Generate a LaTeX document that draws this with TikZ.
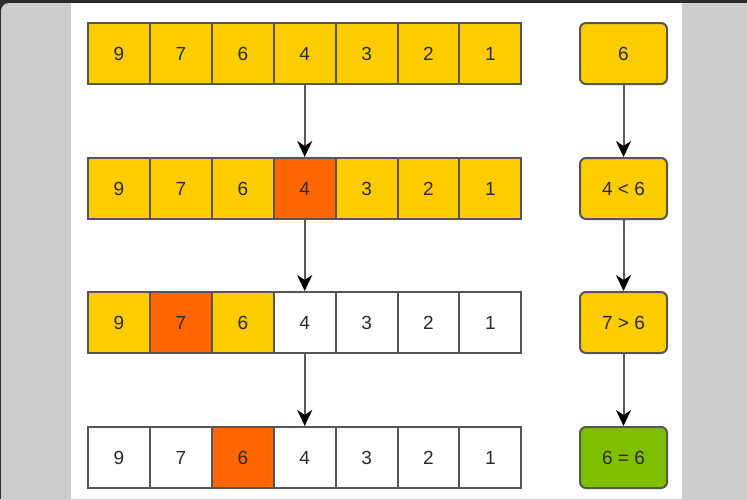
\documentclass[tikz,border=0pt]{standalone}
\usepackage{fontspec}
\setmainfont{Liberation Sans}
\usetikzlibrary{arrows.meta}
\definecolor{cyel}{HTML}{FFCC00}
\definecolor{corg}{HTML}{FF6600}
\definecolor{cgrn}{HTML}{80BF00}
\definecolor{cedge}{HTML}{555555}
\definecolor{ctxt}{HTML}{2A2A2A}
\definecolor{cframe}{HTML}{CCCCCC}
\definecolor{cdark}{HTML}{2B2B2B}
\tikzset{
  x=1pt,y=-1pt,
  cell/.style={draw=cedge,line width=2pt,minimum width=62pt,minimum height=61pt,inner sep=0pt,anchor=north west,font=\fontsize{19}{19}\selectfont,text=ctxt},
  ybox/.style={cell,fill=cyel},
  obox/.style={cell,fill=corg},
  wbox/.style={cell,fill=white},
  rbox/.style={draw=cedge,line width=2pt,rounded corners=6pt,minimum width=87pt,minimum height=61pt,inner sep=0pt,anchor=north west,font=\fontsize{19}{19}\selectfont,text=ctxt},
  arr/.style={draw=gray!70!black,line width=2pt,-{Stealth[length=16pt,width=15pt,inset=5pt,color=black]}}
}
\begin{document}
\begin{tikzpicture}
\useasboundingbox (0,0) rectangle (747,499);
\fill[cdark] (0,0) rectangle (747,499);
\fill[cframe,rounded corners=8pt] (1,3) rectangle (760,510);
\fill[white] (71,3) rectangle (682,499);
% row 1
\foreach \v [count=\i] in {9,7,6,4,3,2,1}{
  \node[ybox] (a\i) at ({87+(\i-1)*61.9},22) {\v};
}
% row 2
\foreach \v [count=\i] in {9,7,6}{
  \node[ybox] (b\i) at ({87+(\i-1)*61.9},157) {\v};
}
\node[obox] (b4) at ({87+3*61.9},157) {4};
\foreach \v [count=\i from 5] in {3,2,1}{
  \node[ybox] (b\i) at ({87+(\i-1)*61.9},157) {\v};
}
% row 3
\node[ybox] (c1) at (87,291) {9};
\node[obox] (c2) at ({87+61.9},291) {7};
\node[ybox] (c3) at ({87+2*61.9},291) {6};
\foreach \v [count=\i from 4] in {4,3,2,1}{
  \node[wbox] (c\i) at ({87+(\i-1)*61.9},291) {\v};
}
% row 4
\node[wbox] (d1) at (87,426) {9};
\node[wbox] (d2) at ({87+61.9},426) {7};
\node[obox] (d3) at ({87+2*61.9},426) {6};
\foreach \v [count=\i from 4] in {4,3,2,1}{
  \node[wbox] (d\i) at ({87+(\i-1)*61.9},426) {\v};
}
% right column
\node[rbox,fill=cyel] (r1) at (579,22) {6};
\node[rbox,fill=cyel] (r2) at (579,157) {4 < 6};
\node[rbox,fill=cyel] (r3) at (579,291) {7 > 6};
\node[rbox,fill=cgrn] (r4) at (579,426) {6 = 6};
% arrows
\draw[arr] (a4.south) -- (b4.north);
\draw[arr] (b4.south) -- (c4.north);
\draw[arr] (c4.south) -- (d4.north);
\draw[arr] (r1.south) -- (r2.north);
\draw[arr] (r2.south) -- (r3.north);
\draw[arr] (r3.south) -- (r4.north);
\end{tikzpicture}
\end{document}
